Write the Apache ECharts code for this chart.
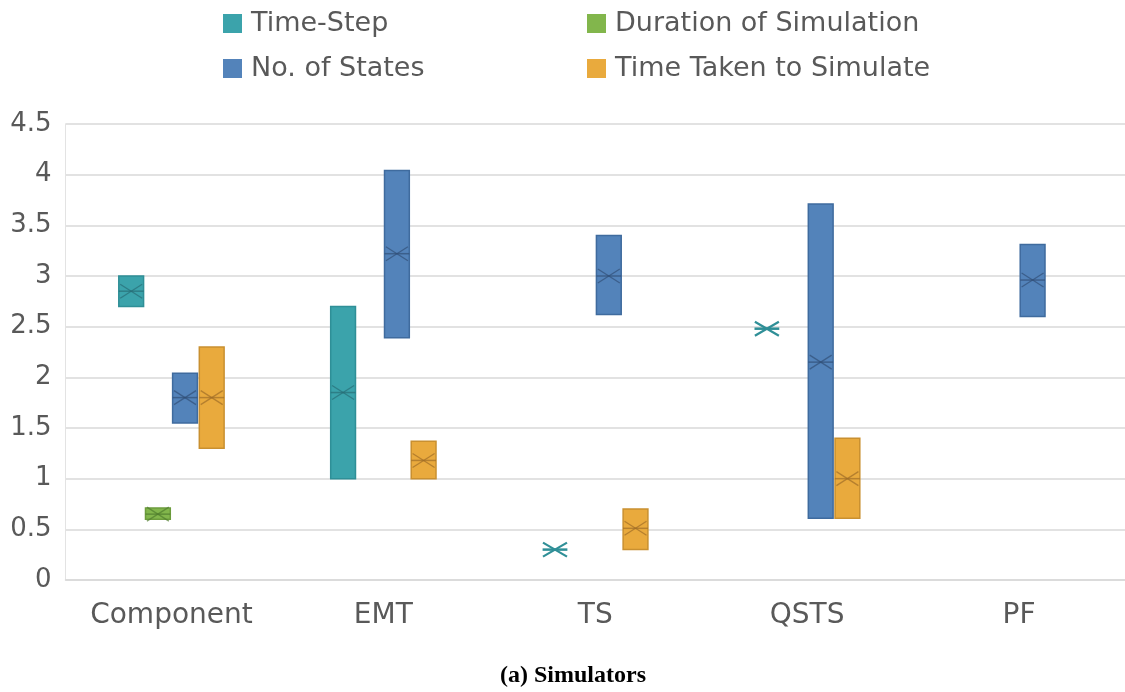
<!DOCTYPE html>
<html>
<head>
<meta charset="utf-8">
<script src="https://cdn.jsdelivr.net/npm/echarts@6/dist/echarts.min.js"></script>
<style>
  html, body { margin: 0; padding: 0; background: #fff; }
  #chart_div { width: 1125px; height: 692px; }
</style>
</head>
<body>
<div id="chart_div"></div>
<script>
// categories and tick labels
var categories = ['Component', 'EMT', 'TS', 'QSTS', 'PF'];
var yTicks = [0, 0.5, 1, 1.5, 2, 2.5, 3, 3.5, 4, 4.5];

// box values: low, high, median, mean (null = no box)
var timeStepLow = [2.7, 1.0, 0.3, 2.48, null];
var timeStepHigh = [3.0, 2.7, 0.3, 2.48, null];
var timeStepMedian = [2.85, 1.85, 0.3, 2.48, null];
var timeStepMean = [2.85, 1.85, 0.3, 2.48, null];

var durationLow = [0.6, null, null, null, null];
var durationHigh = [0.71, null, null, null, null];
var durationMedian = [0.65, null, null, null, null];
var durationMean = [0.65, null, null, null, null];

var statesLow = [1.55, 2.39, 2.62, 0.61, 2.6];
var statesHigh = [2.04, 4.04, 3.4, 3.71, 3.31];
var statesMedian = [1.8, 3.22, 3.0, 2.15, 2.96];
var statesMean = [1.8, 3.22, 3.0, 2.15, 2.96];

var takenLow = [1.3, 1.0, 0.3, 0.61, null];
var takenHigh = [2.3, 1.37, 0.7, 1.4, null];
var takenMedian = [1.8, 1.18, 0.51, 1.0, null];
var takenMean = [1.8, 1.18, 0.51, 1.0, null];

var textColor = '#595959';
var font = 'DejaVu Sans';

function buildData(low, high, median, mean) {
    var out = [];
    for (var i = 0; i < categories.length; i++) {
        if (low[i] == null) continue;
        out.push([i, low[i], high[i], median[i], mean[i]]);
    }
    return out;
}

function makeRender(offset, fill, stroke, mark) {
    return function (params, api) {
        var cat = api.value(0);
        var pLow = api.coord([cat, api.value(1)]);
        var pHigh = api.coord([cat, api.value(2)]);
        var pMed = api.coord([cat, api.value(3)]);
        var pMean = api.coord([cat, api.value(4)]);
        var band = api.size([1, 0])[0];
        var w = band * 0.117;
        var cx = pLow[0] + offset * band;
        var flat = Math.abs(pLow[1] - pHigh[1]) < 1;
        var children = [];
        if (!flat) {
            children.push({
                type: 'rect',
                shape: { x: cx - w / 2, y: pHigh[1], width: w, height: pLow[1] - pHigh[1] },
                style: { fill: fill, stroke: stroke, lineWidth: 1.5 }
            });
        }
        var c = flat ? stroke : mark;
        children.push({
            type: 'line',
            shape: { x1: cx - w / 2, y1: pMed[1], x2: cx + w / 2, y2: pMed[1] },
            style: { stroke: c, lineWidth: flat ? 2.5 : 1.5 }
        });
        var hx = flat ? 12 : 11, hy = 7;
        children.push({
            type: 'line',
            shape: { x1: cx - hx, y1: pMean[1] - hy, x2: cx + hx, y2: pMean[1] + hy },
            style: { stroke: c, lineWidth: flat ? 2.2 : 1.3 }
        });
        children.push({
            type: 'line',
            shape: { x1: cx - hx, y1: pMean[1] + hy, x2: cx + hx, y2: pMean[1] - hy },
            style: { stroke: c, lineWidth: flat ? 2.2 : 1.3 }
        });
        return { type: 'group', children: children };
    };
}

var seriesDefs = [
    { name: 'Time-Step', offset: -0.19, fill: '#3ba3ab', stroke: '#2f8f97', mark: 'rgba(40,110,118,0.7)',
      data: buildData(timeStepLow, timeStepHigh, timeStepMedian, timeStepMean) },
    { name: 'Duration of Simulation', offset: -0.064, fill: '#82b64c', stroke: '#6c9c3c', mark: 'rgba(80,125,45,0.7)',
      data: buildData(durationLow, durationHigh, durationMedian, durationMean) },
    { name: 'No. of States', offset: 0.064, fill: '#5383ba', stroke: '#3f6b9e', mark: 'rgba(50,80,120,0.7)',
      data: buildData(statesLow, statesHigh, statesMedian, statesMean) },
    { name: 'Time Taken to Simulate', offset: 0.19, fill: '#e9aa3d', stroke: '#c99030', mark: 'rgba(160,110,40,0.7)',
      data: buildData(takenLow, takenHigh, takenMedian, takenMean) }
];

var series = seriesDefs.map(function (s) {
    return {
        name: s.name,
        type: 'custom',
        renderItem: makeRender(s.offset, s.fill, s.stroke, s.mark),
        itemStyle: { color: s.fill, borderColor: s.stroke },
        encode: { x: 0, y: [1, 2] },
        data: s.data,
        clip: false
    };
});

var legendText = { color: textColor, fontFamily: font, fontSize: 27, lineHeight: 27, padding: [0, 0, 0, 4] };

var myChart = echarts.init(document.getElementById('chart_div'));
myChart.setOption({
    animation: false,
    textStyle: { fontFamily: font },
    legend: [
        { orient: 'vertical', left: 218, top: 5, itemWidth: 19, itemHeight: 19, itemGap: 18,
          icon: 'rect', textStyle: legendText, data: ['Time-Step', 'No. of States'] },
        { orient: 'vertical', left: 582, top: 5, itemWidth: 19, itemHeight: 19, itemGap: 18,
          icon: 'rect', textStyle: legendText, data: ['Duration of Simulation', 'Time Taken to Simulate'] }
    ],
    grid: { left: 65.5, top: 124, width: 1066.5, height: 456, containLabel: false },
    xAxis: {
        type: 'category',
        data: categories,
        axisLine: { lineStyle: { color: '#d9d9d9', width: 1.5 } },
        axisTick: { show: false },
        axisLabel: { color: textColor, fontFamily: font, fontSize: 28, margin: 22 }
    },
    yAxis: {
        type: 'value',
        min: yTicks[0],
        max: yTicks[yTicks.length - 1],
        interval: 0.5,
        axisLine: { show: true, lineStyle: { color: '#e3e3e3', width: 1 } },
        axisTick: { show: false },
        splitLine: { lineStyle: { color: '#d9d9d9', width: 1.5 } },
        axisLabel: { color: textColor, fontFamily: font, fontSize: 26, margin: 14 }
    },
    graphic: [{
        type: 'text',
        left: 500,
        top: 664,
        style: { text: '(a) Simulators', font: 'bold 24px "Liberation Serif"', fill: '#000' }
    }],
    series: series
});
</script>
</body>
</html>
